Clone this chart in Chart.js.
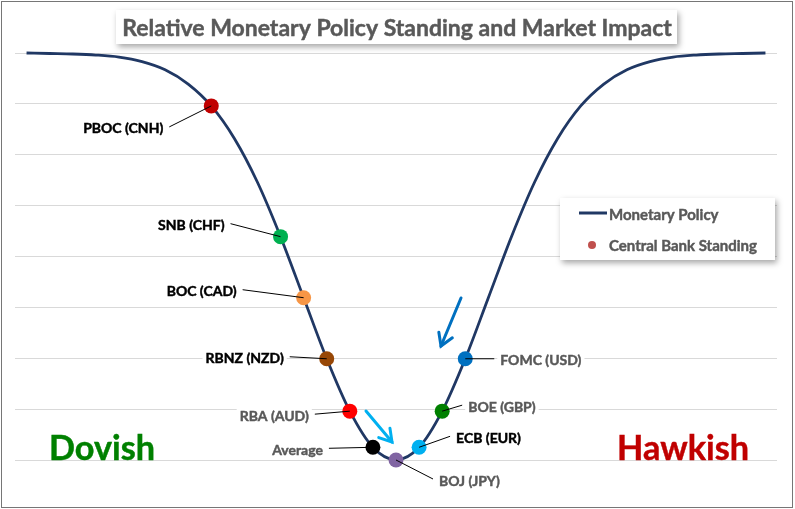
<!DOCTYPE html>
<html>
<head>
<meta charset="utf-8">
<script src="https://cdn.jsdelivr.net/npm/chart.js@4.4.1/dist/chart.umd.min.js"></script>
<style>
body{margin:0;background:#fff;}
#caja{width:795px;height:509px;position:relative;}
</style>
</head>
<body>
<div id="caja"><canvas id="g_politica"></canvas></div>
<script>
// curva: paso en x, nivel en y (0 = fondo de la U)
var curva_x = [0,1,2,3,4,5,6,7,8,9,10,11,12,13,14,15,16,17,18,19,20,21,22,23,24,25,26,27,28,29,30,31,32];
var curva_y = [8.00,7.99,7.98,7.96,7.92,7.83,7.67,7.39,6.96,6.32,5.46,4.39,3.19,1.99,0.96,0.25,0.00,0.25,0.96,1.99,3.19,4.39,5.46,6.32,6.96,7.39,7.67,7.83,7.92,7.96,7.98,7.99,8.00];

// bancos centrales sobre la curva
var bancos = ['PBOC (CNH)','SNB (CHF)','BOC (CAD)','RBNZ (NZD)','RBA (AUD)','Average','BOJ (JPY)','ECB (EUR)','BOE (GBP)','FOMC (USD)'];
var bancos_x = [8,11,12,13,14,15,16,17,18,19];
var bancos_y = [6.96,4.39,3.19,1.99,0.96,0.25,0.00,0.25,0.96,1.99];

// estilo
var colores = ['#c00000','#00b050','#f79646','#974706','#ff0000','#000000','#8064a2','#00b0f0','#008000','#0070c0'];
var color_texto = ['#000','#000','#000','#000','#595959','#595959','#595959','#000','#595959','#595959'];
// posicion de cada etiqueta respecto a su punto: dx, dy, lado
var etiquetas_pos = [
    [-48, 22, 'right'],
    [-56,-12, 'right'],
    [-67, -7, 'right'],
    [-43, -1, 'right'],
    [-41,  4, 'right'],
    [-50,  2, 'right'],
    [ 43, 20, 'left'],
    [ 37,-10, 'left'],
    [ 26, -5, 'left'],
    [ 35,  1, 'left']
];

var fuente = 'Lato, "Open Sans", sans-serif';

function texto(ctx, t, x, y, color, ancho){
    ctx.fillStyle = color;
    ctx.strokeStyle = color;
    ctx.lineWidth = 0.45;
    if (ancho) {
        ctx.fillText(t, x, y, ancho);
        ctx.strokeText(t, x, y, ancho);
    } else {
        ctx.fillText(t, x, y);
        ctx.strokeText(t, x, y);
    }
}

function flecha(ctx, x1, y1, x2, y2, color){
    var ang = Math.atan2(y2-y1, x2-x1);
    ctx.save();
    ctx.strokeStyle = color;
    ctx.lineWidth = 3;
    ctx.lineCap = 'round';
    ctx.beginPath();
    ctx.moveTo(x1, y1);
    ctx.lineTo(x2, y2);
    ctx.stroke();
    ctx.beginPath();
    ctx.moveTo(x2 - 14*Math.cos(ang-0.55), y2 - 14*Math.sin(ang-0.55));
    ctx.lineTo(x2, y2);
    ctx.lineTo(x2 - 14*Math.cos(ang+0.55), y2 - 14*Math.sin(ang+0.55));
    ctx.stroke();
    ctx.restore();
}

function caja_sombra(ctx, x, y, w, h){
    ctx.save();
    ctx.shadowColor = 'rgba(0,0,0,0.35)';
    ctx.shadowBlur = 6;
    ctx.shadowOffsetX = 2;
    ctx.shadowOffsetY = 3;
    ctx.fillStyle = '#fff';
    ctx.fillRect(x, y, w, h);
    ctx.restore();
}

var decorado = {
    id: 'decorado',
    afterDatasetsDraw: function(chart){
        var ctx = chart.ctx;
        var meta = chart.getDatasetMeta(0);
        ctx.save();
        ctx.font = 'bold 14px ' + fuente;
        ctx.textBaseline = 'middle';
        for (let i = 0; i < bancos.length; i++) {
            var p = meta.data[i];
            var pos = etiquetas_pos[i];
            var tx = p.x + pos[0], ty = p.y + pos[1];
            var w = ctx.measureText(bancos[i]).width;
            var x0 = pos[2] == 'right' ? tx - w : tx;
            ctx.fillStyle = '#fff';
            ctx.fillRect(x0 - 3, ty - 8, w + 6, 17);
            ctx.textAlign = pos[2];
            texto(ctx, bancos[i], tx, ty + 1, color_texto[i]);
            // linea guia
            var lx = pos[2] == 'right' ? tx + 6 : tx - 6;
            ctx.strokeStyle = '#000';
            ctx.lineWidth = 1;
            ctx.beginPath();
            ctx.moveTo(lx, ty - 1);
            ctx.lineTo(p.x, p.y);
            ctx.stroke();
        }
        ctx.restore();
    },
    afterDraw: function(chart){
        var ctx = chart.ctx;
        ctx.save();
        // titulo
        caja_sombra(ctx, 116, 10, 561, 34);
        ctx.font = 'bold 23px ' + fuente;
        ctx.textAlign = 'center';
        ctx.textBaseline = 'alphabetic';
        texto(ctx, 'Relative Monetary Policy Standing and Market Impact', 397, 36, '#595959', 551);

        // leyenda
        caja_sombra(ctx, 560, 198, 215, 62);
        ctx.strokeStyle = '#203864';
        ctx.lineWidth = 3;
        ctx.beginPath();
        ctx.moveTo(579, 213);
        ctx.lineTo(607, 213);
        ctx.stroke();
        ctx.fillStyle = '#c0504d';
        ctx.beginPath();
        ctx.arc(592, 245, 4, 0, Math.PI*2);
        ctx.fill();
        ctx.font = 'bold 15px ' + fuente;
        ctx.textAlign = 'left';
        ctx.textBaseline = 'middle';
        texto(ctx, 'Monetary Policy', 609, 215, '#595959', 111);
        texto(ctx, 'Central Bank Standing', 609, 246, '#595959', 150);

        // dovish / hawkish
        ctx.textBaseline = 'alphabetic';
        ctx.font = 'bold 35px ' + fuente;
        texto(ctx, 'Dovish', 49, 460, '#008000', 106);
        texto(ctx, 'Hawkish', 617, 460, '#c00000', 132);

        // flechas
        flecha(ctx, 461, 298, 441, 346, '#0070c0');
        flecha(ctx, 366, 411, 392, 442, '#00b0f0');

        // marco
        ctx.strokeStyle = '#767676';
        ctx.lineWidth = 1;
        ctx.strokeRect(1.5, 1.5, 791, 506);
        ctx.restore();
    }
};

var puntos = [];
for (let i = 0; i < bancos.length; i++) {
    puntos.push({x: bancos_x[i], y: bancos_y[i]});
}
var linea = [];
for (let i = 0; i < curva_x.length; i++) {
    linea.push({x: curva_x[i], y: curva_y[i]});
}

new Chart(document.getElementById("g_politica"), {
    type: 'line',
    data: {
        datasets: [{
            type: 'scatter',
            label: 'Central Bank Standing',
            data: puntos,
            pointRadius: 7.5,
            pointHoverRadius: 7.5,
            pointBackgroundColor: colores,
            pointBorderWidth: 0,
            order: 0,
            clip: false
        }, {
            label: 'Monetary Policy',
            data: linea,
            borderColor: '#203864',
            borderWidth: 2.8,
            pointRadius: 0,
            cubicInterpolationMode: 'monotone',
            order: 1,
            clip: false
        }]
    },
    options: {
        responsive: true,
        maintainAspectRatio: false,
        animation: false,
        layout: { padding: { left: 15, right: 18, top: 53, bottom: 49 } },
        plugins: {
            legend: { display: false },
            title: { display: false },
            tooltip: { enabled: false }
        },
        scales: {
            x: { type: 'linear', min: -0.5, max: 32.5, display: false },
            y: {
                min: 0, max: 8,
                ticks: { display: false, stepSize: 1 },
                grid: { color: '#d9d9d9', drawTicks: false },
                border: { display: false },
                afterFit: function(axis){ axis.width = 0; }
            }
        }
    },
    plugins: [decorado]
});
</script>
</body>
</html>
